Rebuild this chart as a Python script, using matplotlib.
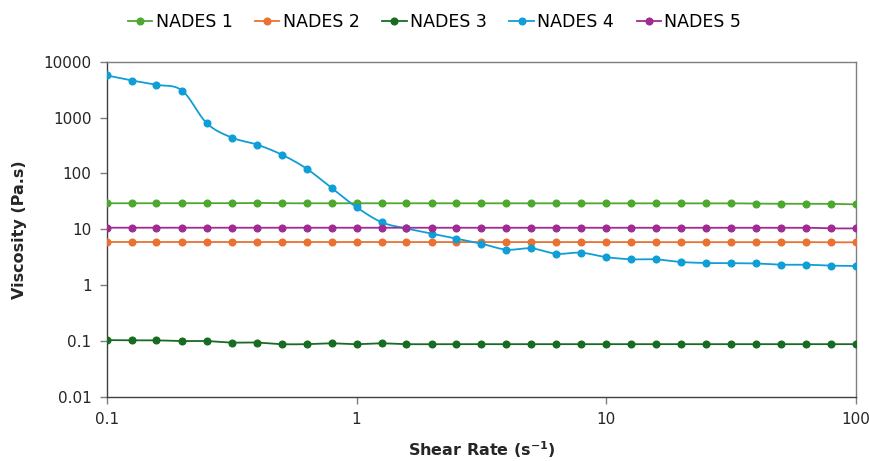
import numpy as np
import matplotlib
matplotlib.use('Agg')
import matplotlib.pyplot as plt

plt.rcParams['font.family'] = ['DejaVu Sans']
plt.rcParams['mathtext.default'] = 'regular'

# shear rate steps (s^-1), 10 per decade
shear = [0.1, 0.126, 0.158, 0.2, 0.251, 0.316, 0.398, 0.501, 0.631, 0.794,
         1.0, 1.26, 1.58, 2.0, 2.51, 3.16, 3.98, 5.01, 6.31, 7.94,
         10.0, 12.6, 15.8, 20.0, 25.1, 31.6, 39.8, 50.1, 63.1, 79.4, 100.0]

nades1 = [29.3, 29.3, 29.3, 29.3, 29.3, 29.4, 29.7, 29.3, 29.3, 29.3,
          29.3, 29.3, 29.3, 29.3, 29.3, 29.3, 29.3, 29.3, 29.3, 29.3,
          29.3, 29.3, 29.3, 29.3, 29.3, 29.3, 28.9, 28.7, 28.7, 28.6, 28.0]
nades2 = [5.94, 5.94, 5.94, 5.94, 5.94, 5.94, 5.94, 5.94, 5.94, 5.94,
          5.94, 5.94, 5.94, 5.94, 5.94, 5.94, 5.94, 5.94, 5.94, 5.94,
          5.94, 5.94, 5.9, 5.9, 5.9, 5.9, 5.9, 5.9, 5.9, 5.85, 5.85]
nades3 = [0.104, 0.103, 0.103, 0.100, 0.100, 0.094, 0.094, 0.088, 0.088, 0.091,
          0.088, 0.091, 0.088, 0.088, 0.088, 0.088, 0.088, 0.088, 0.088, 0.088,
          0.088, 0.088, 0.088, 0.088, 0.088, 0.088, 0.088, 0.088, 0.088, 0.088, 0.088]
nades4 = [5690, 4620, 3870, 3060, 797, 440, 330, 218, 122, 55,
          24.9, 13.4, 10.4, 8.4, 6.8, 5.54, 4.33, 4.57, 3.66, 3.82,
          3.18, 2.91, 2.9, 2.6, 2.5, 2.48, 2.45, 2.33, 2.33, 2.24, 2.21]
nades5 = [10.7, 10.7, 10.7, 10.7, 10.7, 10.7, 10.7, 10.7, 10.7, 10.7,
          10.7, 10.7, 10.7, 10.7, 10.7, 10.7, 10.7, 10.7, 10.7, 10.7,
          10.7, 10.7, 10.7, 10.7, 10.7, 10.7, 10.7, 10.7, 10.7, 10.4, 10.4]

names = ['NADES 1', 'NADES 2', 'NADES 3', 'NADES 4', 'NADES 5']
colors = ['#4EA72E', '#E97132', '#196B24', '#0F9ED5', '#A02B93']
series = [nades1, nades2, nades3, nades4, nades5]


def smooth(x, y, n=20):
    # cardinal spline through the points in log-log space
    lx, ly = np.log10(x), np.log10(y)
    px = np.concatenate([[lx[0]], lx, [lx[-1]]])
    py = np.concatenate([[ly[0]], ly, [ly[-1]]])
    t = np.linspace(0, 1, n)[:, None]
    outx, outy = [], []
    for i in range(1, len(px) - 2):
        p0 = np.array([px[i], py[i]])
        p3 = np.array([px[i + 1], py[i + 1]])
        c1 = p0 + (np.array([px[i + 1], py[i + 1]]) - np.array([px[i - 1], py[i - 1]])) / 6
        c2 = p3 - (np.array([px[i + 2], py[i + 2]]) - np.array([px[i], py[i]])) / 6
        b = ((1 - t) ** 3) * p0 + 3 * ((1 - t) ** 2) * t * c1 + 3 * (1 - t) * t ** 2 * c2 + t ** 3 * p3
        outx.append(b[:, 0]); outy.append(b[:, 1])
    return 10 ** np.concatenate(outx), 10 ** np.concatenate(outy)


fig = plt.figure(figsize=(8.69, 4.61), dpi=100)
ax = fig.add_axes([0.123, 0.139, 0.862, 0.727])

for name, c, vals in zip(names, colors, series):
    sx, sy = smooth(shear, vals)
    ax.plot(sx, sy, color=c, lw=1.3, zorder=2)
    ax.plot(shear, vals, 'o', color=c, ms=4.8, zorder=3)
    ax.plot([], [], '-o', color=c, lw=1.3, ms=4.8, label=name)

ax.set_xscale('log')
ax.set_yscale('log')
ax.set_xlim(0.1, 100)
ax.set_ylim(0.01, 10000)
ax.set_xticks([0.1, 1, 10, 100])
ax.set_xticklabels(['0.1', '1', '10', '100'])
ax.set_yticks([0.01, 0.1, 1, 10, 100, 1000, 10000])
ax.set_yticklabels(['0.01', '0.1', '1', '10', '100', '1000', '10000'])
ax.minorticks_off()
ax.tick_params(axis='both', direction='out', length=5, width=1, color='#7f7f7f',
               labelsize=11, labelcolor='#262626', pad=6)

for s in ['left', 'bottom']:
    ax.spines[s].set_color('#404040')
for s in ['top', 'right']:
    ax.spines[s].set_color('#7f7f7f')
for s in ax.spines.values():
    s.set_linewidth(1)

ax.set_xlabel('Shear Rate (s$^{\\mathregular{-1}}$)', fontsize=11.5, fontweight='bold',
              color='#262626', labelpad=9)
ax.set_ylabel('Viscosity (Pa.s)', fontsize=11.5, fontweight='bold', color='#262626', labelpad=12)

fig.legend(loc='center', bbox_to_anchor=(0.5, 0.952), ncol=5, frameon=False,
           fontsize=12.5, handlelength=1.4, handletextpad=0.2, columnspacing=1.3)

fig.savefig('out.png', dpi=100)
